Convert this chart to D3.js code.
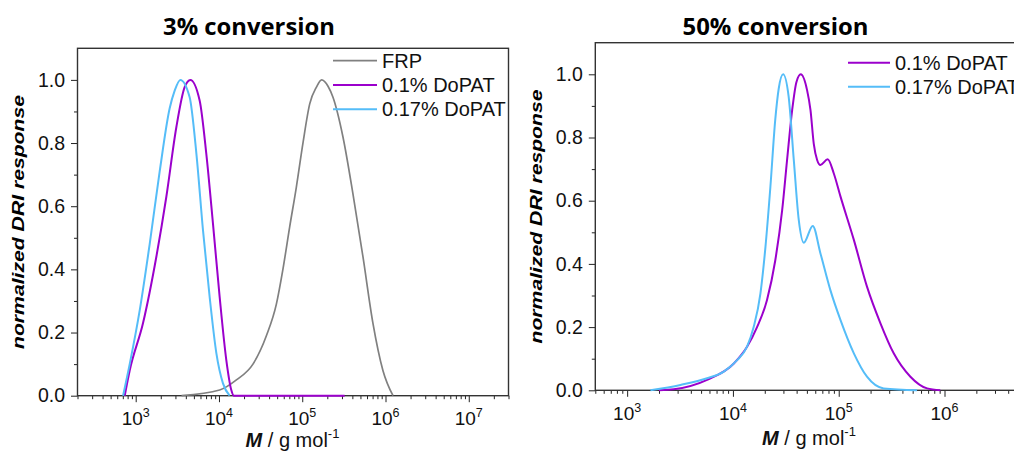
<!DOCTYPE html>
<html>
<head>
<meta charset="utf-8">
<script src="https://cdn.jsdelivr.net/npm/d3@7"></script>
<style>
  body { margin: 0; background: #fff; }
  svg { display: block; background: #fff; }
</style>
</head>
<body>
<div id="chart"></div>
<script>
// ---- 3% conversion (M in g/mol, normalized DRI response) ----
var frp3M = [3550, 10200, 16200, 25600, 37100, 48900, 58600, 70600, 84900, 102000, 123000, 148000, 171000, 204000, 234000, 308000, 406000, 536000, 706000, 931000, 1230000];
var frp3R = [0, 0.018, 0.05, 0.10, 0.19, 0.29, 0.40, 0.534, 0.66, 0.80, 0.924, 0.977, 1.0, 0.98, 0.945, 0.82, 0.64, 0.44, 0.23, 0.08, 0];

var d01_3M = [738, 847, 1225, 1770, 2333, 3076, 3870, 4530, 5861, 7047, 8472, 10190, 12250, 14060, 15000, 323000];
var d01_3R = [0, 0.08, 0.23, 0.44, 0.63, 0.85, 0.977, 1.0, 0.935, 0.766, 0.545, 0.313, 0.113, 0.018, 0, 0];

var d017_3M = [705, 847, 1117, 1472, 1941, 2559, 2938, 3436, 4446, 5358, 6427, 7727, 9311, 11170, 13430];
var d017_3R = [0, 0.10, 0.27, 0.48, 0.71, 0.91, 0.966, 1.0, 0.945, 0.766, 0.524, 0.313, 0.134, 0.039, 0];

// ---- 50% conversion ----
var d01_50M = [2000, 2760, 5700, 10200, 13600, 16900, 21000, 25100, 29200, 32500, 36300, 39800, 43800, 50200, 54100, 58100, 62500, 67100, 78700, 89700, 104000, 139000, 185000, 248000, 331000, 476000, 684000, 912000];
var d01_50R = [0, 0.003, 0.033, 0.085, 0.138, 0.20, 0.286, 0.41, 0.57, 0.729, 0.887, 0.975, 1.0, 0.95, 0.887, 0.78, 0.729, 0.713, 0.731, 0.687, 0.613, 0.476, 0.328, 0.212, 0.117, 0.043, 0.006, 0];

var d017_50M = [1660, 3190, 5700, 8190, 11000, 13600, 15700, 18200, 20300, 22600, 25100, 27100, 29800, 33600, 37600, 41900, 46700, 56800, 67100, 83400, 104000, 139000, 185000, 266000, 550000];
var d017_50R = [0, 0.017, 0.038, 0.059, 0.096, 0.138, 0.20, 0.307, 0.454, 0.644, 0.855, 0.955, 1.0, 0.93, 0.729, 0.539, 0.467, 0.52, 0.434, 0.317, 0.222, 0.117, 0.043, 0.006, 0];

// ticks and labels
var xMajor3 = [1e3, 1e4, 1e5, 1e6, 1e7];
var xMajor50 = [1e3, 1e4, 1e5, 1e6];
var yMajor = [0, 0.2, 0.4, 0.6, 0.8, 1.0];
var yMinor = [0.1, 0.3, 0.5, 0.7, 0.9];

var titles = ["3% conversion", "50% conversion"];
var names3 = ["FRP", "0.1% DoPAT", "0.17% DoPAT"];
var names50 = ["0.1% DoPAT", "0.17% DoPAT"];

var colGray = "#808080", colPurple = "#9b00cc", colBlue = "#55bdf8";
var sansFont = "'Liberation Sans', Arial, sans-serif";

var svg = d3.select("#chart").append("svg")
  .attr("width", 1014)
  .attr("height", 452);

function zip(a, b) {
  return a.map(function (d, i) { return [d, b[i]]; });
}

function drawPanel(cfg) {
  var x = d3.scaleLog().domain(cfg.xDomain).range([cfg.left, cfg.right]);
  var y = d3.scaleLinear().domain([0, 1.1]).range([cfg.bottom, cfg.top]);
  var g = svg.append("g");

  // x minor ticks (2..9 x 10^n)
  var minor = x.ticks().filter(function (d) {
    var l = Math.log10(d);
    return Math.abs(l - Math.round(l)) > 1e-6;
  });
  g.append("g")
    .attr("transform", "translate(0," + cfg.bottom + ")")
    .style("color", "#222")
    .call(d3.axisBottom(x).tickValues(minor).tickSize(3.5).tickFormat(""))
    .call(function (a) { a.select(".domain").remove(); });

  g.append("g")
    .attr("transform", "translate(0," + cfg.bottom + ")")
    .style("color", "#222")
    .call(d3.axisBottom(x).tickValues(cfg.xMajor).tickSize(6.5).tickFormat(""))
    .call(function (a) { a.select(".domain").remove(); });

  // x labels as 10^n
  var xl = g.append("g").selectAll("text")
    .data(cfg.xMajor)
    .enter()
    .append("text")
    .attr("x", function (d) { return x(d); })
    .attr("y", cfg.bottom + 29.5)
    .attr("text-anchor", "middle")
    .style("font-family", sansFont)
    .style("font-size", "19px")
    .style("fill", "#111");
  xl.append("tspan").text("10");
  xl.append("tspan")
    .attr("dy", -8)
    .style("font-size", "12.5px")
    .text(function (d) { return Math.round(Math.log10(d)); });

  // y axis
  g.append("g")
    .attr("transform", "translate(" + cfg.left + ",0)")
    .style("color", "#222")
    .call(d3.axisLeft(y).tickValues(yMinor).tickSize(3.5).tickFormat(""))
    .call(function (a) { a.select(".domain").remove(); });

  g.append("g")
    .attr("transform", "translate(" + cfg.left + ",0)")
    .style("color", "#222")
    .call(d3.axisLeft(y).tickValues(yMajor).tickSize(6.5).tickPadding(6).tickFormat(d3.format(".1f")))
    .call(function (a) { a.select(".domain").remove(); })
    .selectAll("text")
    .style("font-family", sansFont)
    .style("font-size", "19.5px")
    .style("fill", "#111");

  // frame
  g.append("rect")
    .attr("x", cfg.left)
    .attr("y", cfg.top)
    .attr("width", cfg.right - cfg.left)
    .attr("height", cfg.bottom - cfg.top)
    .attr("fill", "none")
    .attr("stroke", "#333")
    .attr("stroke-width", 1.4);

  // curves
  var line = d3.line()
    .x(function (d) { return x(d[0]); })
    .y(function (d) { return y(d[1]); })
    .curve(d3.curveMonotoneX);

  cfg.series.forEach(function (s) {
    g.append("path")
      .datum(zip(s.m, s.r))
      .attr("fill", "none")
      .attr("stroke", s.color)
      .attr("stroke-width", s.width)
      .attr("d", line);
  });

  // legend
  cfg.legend.forEach(function (s, i) {
    var ly = cfg.legendY + i * cfg.legendStep;
    g.append("line")
      .attr("x1", cfg.legendX).attr("x2", cfg.legendX + cfg.legendLen)
      .attr("y1", ly).attr("y2", ly)
      .attr("stroke", s.color)
      .attr("stroke-width", s.width);
    g.append("text")
      .attr("x", cfg.legendX + cfg.legendLen + 5)
      .attr("y", ly + 7)
      .style("font-family", sansFont)
      .style("font-size", "20px")
      .style("fill", "#111")
      .text(s.name);
  });

  // title
  g.append("text")
    .attr("x", cfg.titleX)
    .attr("y", 35)
    .attr("text-anchor", "middle")
    .style("font-family", "'Open Sans', sans-serif")
    .style("font-weight", "700")
    .style("font-size", "23px")
    .attr("textLength", cfg.titleLen)
    .attr("lengthAdjust", "spacingAndGlyphs")
    .text(cfg.title);

  // axis titles
  g.append("text")
    .attr("transform", "translate(" + cfg.yLabelX + "," + (cfg.top + cfg.bottom) / 2 + ") rotate(-90)")
    .attr("text-anchor", "middle")
    .attr("textLength", 254)
    .attr("lengthAdjust", "spacingAndGlyphs")
    .style("font-family", sansFont)
    .style("font-weight", "700")
    .style("font-style", "italic")
    .style("font-size", "17px")
    .text("normalized DRI response");

  var xt = g.append("text")
    .attr("x", cfg.xLabelX)
    .attr("y", cfg.xLabelY)
    .attr("text-anchor", "middle")
    .style("font-family", sansFont)
    .style("font-size", "20px")
    .style("fill", "#111");
  xt.append("tspan").style("font-weight", "700").style("font-style", "italic").text("M");
  xt.append("tspan").text(" / g mol");
  xt.append("tspan").attr("dy", -9).style("font-size", "13px").text("-1");
}

var s3 = [
  { name: names3[0], m: frp3M, r: frp3R, color: colGray, width: 1.7 },
  { name: names3[1], m: d01_3M, r: d01_3R, color: colPurple, width: 2 },
  { name: names3[2], m: d017_3M, r: d017_3R, color: colBlue, width: 2 }
];
drawPanel({
  left: 77.5, right: 508.5, top: 48.3, bottom: 395.7,
  xDomain: [200, 3e7], xMajor: xMajor3,
  series: s3, legend: s3,
  legendX: 333, legendLen: 44, legendY: 60.7, legendStep: 24.3,
  title: titles[0], titleX: 249, titleLen: 172,
  yLabelX: 24, xLabelX: 292.5, xLabelY: 447
});

var s50 = [
  { name: names50[0], m: d01_50M, r: d01_50R, color: colPurple, width: 2 },
  { name: names50[1], m: d017_50M, r: d017_50R, color: colBlue, width: 2 }
];
drawPanel({
  left: 595.3, right: 1050.3, top: 42.7, bottom: 390.3,
  xDomain: [500, 1e7], xMajor: xMajor50,
  series: s50, legend: s50,
  legendX: 848, legendLen: 42, legendY: 62.7, legendStep: 24,
  title: titles[1], titleX: 775.5, titleLen: 186,
  yLabelX: 541.5, xLabelX: 809, xLabelY: 445
});
</script>
</body>
</html>
